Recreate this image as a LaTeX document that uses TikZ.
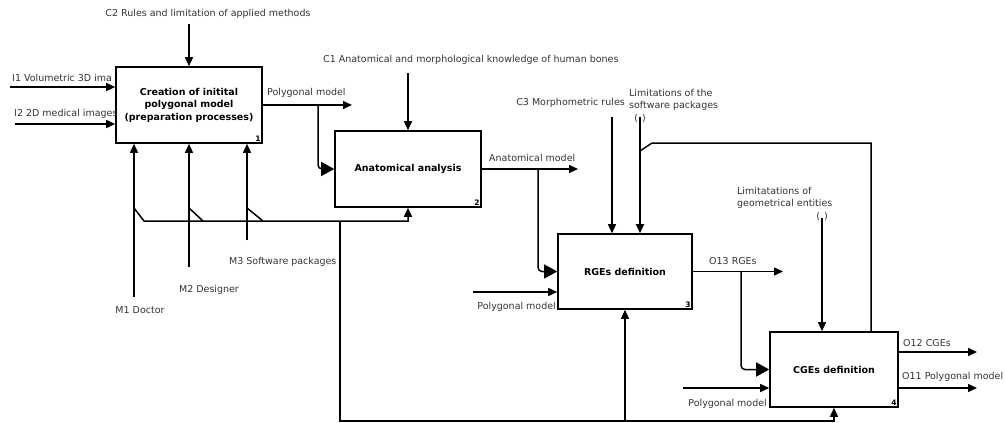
\documentclass[tikz,border=0pt]{standalone}
\usepackage{fontspec}
\setmainfont{DejaVu Sans}
\usetikzlibrary{arrows.meta, positioning, calc}

\begin{document}
\begin{tikzpicture}[
  x=1pt, y=-1pt,
  % --- styles ------------------------------------------------------------
  func/.style={
    rectangle, draw, line width=1.6pt, fill=white, inner sep=0pt,
    font=\fontsize{9.5}{12.5}\selectfont\bfseries, align=center
  },
  lbl/.style={font=\fontsize{9.5}{12}\selectfont, text=black!80, inner sep=0pt},
  num/.style={font=\fontsize{7.5}{7.5}\selectfont\bfseries, inner sep=2pt},
  flow/.style={-{Triangle[length=9pt,width=8pt]}, line width=1.5pt},
  bigflow/.style={-{Triangle[length=13pt,width=14pt]}, line width=1.5pt, rounded corners=4pt},
  plain/.style={line width=1.5pt}
]
\useasboundingbox (0,0) rectangle (1005,423);

% --------------------- activity boxes -----------------------------------
\node[func, minimum width=146pt, minimum height=76pt] (b1) at (189,105)
  {Creation of initital\\polygonal model\\(preparation processes)};
\node[func, minimum width=146pt, minimum height=76pt] (b2) at (408,169) {Anatomical analysis};
\node[func, minimum width=134pt, minimum height=75pt] (b3) at (625,271.5) {RGEs definition};
\node[func, minimum width=128pt, minimum height=75pt] (b4) at (834,369.5) {CGEs definition};

\node[num, anchor=south east] at (b1.south east) {1};
\node[num, anchor=south east] at (b2.south east) {2};
\node[num, anchor=south east] at (b3.south east) {3};
\node[num, anchor=south east] at (b4.south east) {4};

% --------------------- free ends ----------------------------------------
\coordinate (c2) at (189,24);
\coordinate (c1) at (408,73);
\coordinate (c3) at (612,117);
\coordinate (c4) at (640,117);
\coordinate (c5) at (822,218);
\coordinate (i1) at (10,87);
\coordinate (i2) at (15,124);
\coordinate (i3) at (473,292);
\coordinate (i4) at (683,388);
\coordinate (m1) at (134,297);
\coordinate (m2) at (189,267);
\coordinate (m3) at (247,240);
\coordinate (o1) at (352,105);
\coordinate (o2) at (578,169);
\coordinate (o3) at (783,271.5);
\coordinate (o12) at (977,352);
\coordinate (o11) at (977,388);

% --------------------- controls -----------------------------------------
\draw[flow] (c2) -- (b1.north);
\draw[flow] (c1) -- (b2.north);
\draw[flow] (c3) -- (c3 |- b3.north);
\draw[flow] (c4) -- (c4 |- b3.north);
\draw[flow] (c5) -- (c5 |- b4.north);

% --------------------- inputs -------------------------------------------
\draw[flow] (i1) -- (i1 -| b1.west);
\draw[flow] (i2) -- (i2 -| b1.west);
\draw[flow] (i3) -- (i3 -| b3.west);
\draw[flow] (i4) -- (i4 -| b4.west);

% --------------------- outputs and branches -----------------------------
\draw[flow] (b1.east) -- (o1);
\draw[bigflow] (318,105) |- (b2.west);
\draw[flow] (b2.east) -- (o2);
\draw[bigflow] (538,169) |- (b3.west);
\draw[flow] (b3.east) -- (o3);
\draw[bigflow] (741,271.5) |- (b4.west);
\draw[flow] (o12 -| b4.east) -- (o12);
\draw[flow] (o11 -| b4.east) -- (o11);

% --------------------- mechanisms ---------------------------------------
\draw[flow] (m1) -- (m1 |- b1.south);
\draw[flow] (m2) -- (m2 |- b1.south);
\draw[flow] (m3) -- (m3 |- b1.south);

% bundle of mechanisms (joins)
\coordinate (bus) at (340,221);
\coordinate (bot) at (340,421);
\draw[flow] (134,208) -- (144,221) -| (b2.south);
\draw[plain] (189,208) -- (203,221);
\draw[plain] (247,208) -- (263,221);
\draw[flow] (bus) -- (bot) -| (b4.south);
\draw[flow] (bot -| b3.south) -- (b3.south);

% feedback from CGEs to software limitation
\coordinate (fb) at (871,143);
\draw[plain] (fb |- b4.north) -- (fb) -- (652,143) -- (640,151);

% --------------------- labels -------------------------------------------
\node[lbl] at (208,14) {C2 Rules and limitation of applied methods};
\node[lbl, anchor=west] at (12,78) {I1 Volumetric 3D ima};
\node[lbl, anchor=west] at (14,114) {I2 2D medical images};
\node[lbl, anchor=west] at (267,93) {Polygonal model};
\node[lbl, anchor=west] at (323,60) {C1 Anatomical and morphological knowledge of human bones};
\node[lbl, anchor=west] at (489,158) {Anatomical model};
\node[lbl, anchor=east] at (625,103) {C3 Morphometric rules};
\node[lbl, anchor=west, align=left] at (629,100) {Limitations of the\\software packages};
\node[lbl] at (640,119) {(\hspace{4pt})};
\node[lbl, anchor=west, align=left] at (737,198) {Limitatations of\\geometrical entities};
\node[lbl] at (822,217) {(\hspace{4pt})};
\node[lbl] at (140,310) {M1 Doctor};
\node[lbl] at (209,290) {M2 Designer};
\node[lbl, anchor=west] at (229,262) {M3 Software packages};
\node[lbl, anchor=east] at (556,307) {Polygonal model};
\node[lbl, anchor=west] at (709,261) {O13 RGEs};
\node[lbl, anchor=east] at (767,404) {Polygonal model};
\node[lbl, anchor=west] at (903,343) {O12 CGEs};
\node[lbl, anchor=west] at (902,377) {O11 Polygonal model};

\end{tikzpicture}
\end{document}
